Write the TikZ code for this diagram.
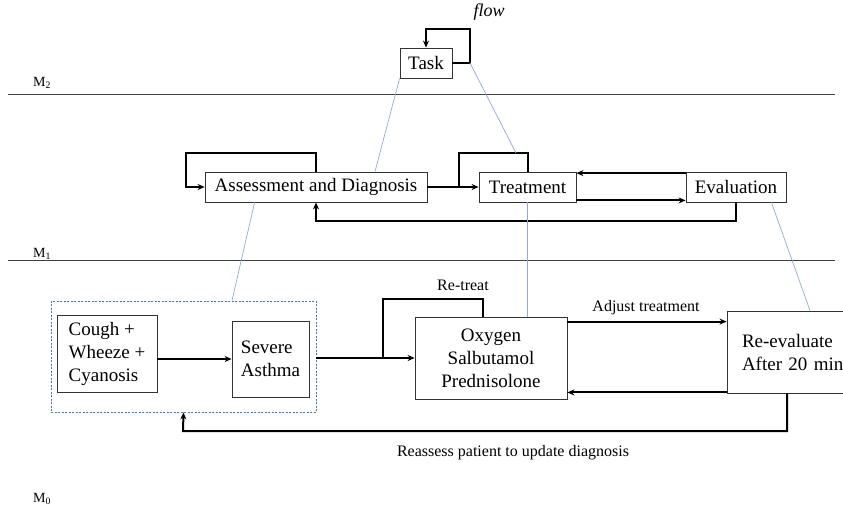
\documentclass[tikz,border=0pt]{standalone}
\usepackage{fontspec}
\setmainfont{Liberation Serif}
\usetikzlibrary{arrows.meta,calc}
\definecolor{lblue}{HTML}{8EA9DB}
\definecolor{dblue}{HTML}{4472C4}
\tikzset{
  box/.style={draw=black!80, line width=0.8pt, inner sep=0pt, font=\fontsize{19}{23}\selectfont},
  flowline/.style={line width=2pt, -{Stealth[length=7pt,width=6pt]}},
  plainline/.style={line width=2pt},
  link/.style={draw=lblue, line width=0.7pt},
  lab/.style={font=\fontsize{16}{19}\selectfont, inner sep=0pt},
  lvl/.style={font=\fontsize{14}{16}\selectfont, inner sep=0pt, anchor=base west},
  sep/.style={draw=black!75, line width=0.8pt}
}
\begin{document}
\begin{tikzpicture}[x=1pt,y=-1pt]
\useasboundingbox (0,0) rectangle (843,507);
% level separators
\draw[sep] (8,94) -- (835,94);
\draw[sep] (8,260) -- (835,260);
\node[lvl] (m2) at (33,86) {M\textsubscript{2}};
\node[lvl] (m1) at (33,257) {M\textsubscript{1}};
\node[lvl] (m0) at (33,502) {M\textsubscript{0}};
% M2
\node[box, minimum width=52pt, minimum height=30pt] (task) at (426,63) {Task};
\coordinate (f1) at (470,29);
\draw[flowline] (task.east) -| (f1) -| (task.north);
\node[font=\fontsize{18}{20}\selectfont\itshape, inner sep=0pt] (flow) at (489,12) {flow};
% M1
\node[box, minimum width=222pt, minimum height=30pt] (ad) at (316,187) {Assessment and Diagnosis};
\node[box, minimum width=97pt, minimum height=30pt] (tr) at (527.5,187) {Treatment};
\node[box, minimum width=100pt, minimum height=30pt] (ev) at (736,187) {Evaluation};
\coordinate (a1) at (186,153);
\draw[flowline] (ad.north) |- (a1) |- (ad.west);
\coordinate (t1) at (459,153);
\draw[plainline] (tr.north) |- (t1) |- ([xshift=-20pt]tr.west);
\draw[flowline] (ad.east) -- (tr.west);
\draw[flowline] ([yshift=-1.5pt]ev.north west) -- ([yshift=-1.5pt]tr.north east);
\draw[flowline] ([yshift=2pt]tr.south east) -- ([yshift=2pt]ev.south west);
\coordinate (e1) at (316,221);
\draw[flowline] (ev.south) |- (e1) -- (ad.south);
% links M2-M1
\coordinate (tl) at (516,153);
\draw[link] (task.south west) -- ([xshift=59pt]ad.north);
\draw[link] (470,63) -- (tl);
% M0
\node[draw=dblue, dash pattern=on 2pt off 1.5pt, line width=0.8pt, minimum width=265pt, minimum height=111pt, inner sep=0pt] (grp) at (183.5,356.5) {};
\node[box, minimum width=100pt, minimum height=77pt, align=left] (cough) at (107,353.5) {Cough +\\Wheeze +\\Cyanosis};
\node[box, minimum width=77pt, minimum height=76pt, align=left] (sev) at (270.5,359) {Severe\\Asthma};
\node[box, minimum width=152pt, minimum height=82pt, align=center] (oxy) at (491,358) {Oxygen\\Salbutamol\\Prednisolone};
\node[box, minimum height=82pt, text width=103pt, inner xsep=15pt, align=left] (re) at (793.5,352) {Re-evaluate\\After 20 min};
\draw[flowline] (cough.east |- sev.west) -- (sev.west);
\draw[flowline] (grp.east |- oxy.west) -- (oxy.west);
\coordinate (r1) at (383,299);
\draw[plainline] ([xshift=-8pt]oxy.north) |- (r1) |- ([xshift=-20pt]oxy.west);
\node[lab] (retreat) at (463,285) {Re-treat};
\draw[flowline] ([yshift=-5pt]oxy.north east) -- ([yshift=-5pt]oxy.north east -| re.west);
\node[lab] (adj) at (646,308) {Adjust treatment};
\draw[flowline] ([yshift=1pt]re.south west) -- ([yshift=1pt]re.south west -| oxy.east);
\coordinate (g1) at (183,431);
\draw[flowline] ([xshift=-6.5pt]re.south) |- (g1) -- (grp.south);
\node[lab] (reassess) at (513,453) {Reassess patient to update diagnosis};
% links M1-M0
\draw[link] ([xshift=50pt]ad.south west) -- ([xshift=48.5pt]grp.north);
\draw[link] (tr.south) -- (tr.south |- oxy.north);
\draw[link] ([xshift=-15pt]ev.south east) -- ([xshift=16.5pt]re.north);
\end{tikzpicture}
\end{document}
